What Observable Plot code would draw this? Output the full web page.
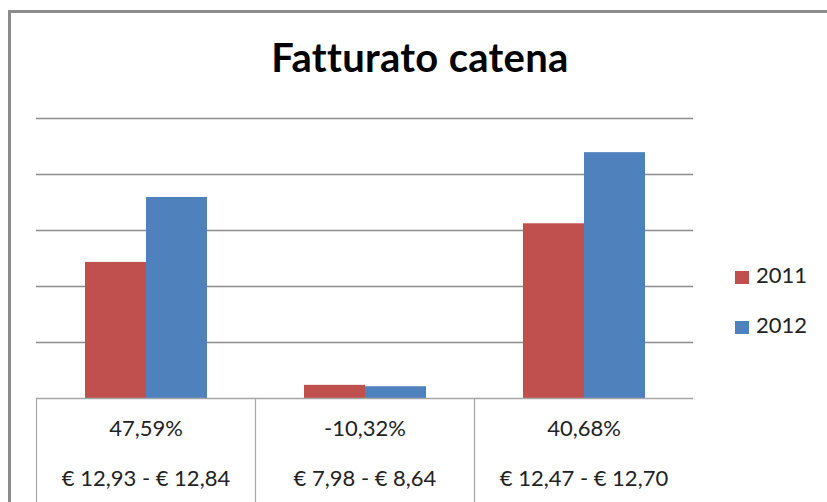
<!DOCTYPE html>
<html>
<head>
<meta charset="utf-8">
<script src="https://cdn.jsdelivr.net/npm/d3@7"></script>
<script src="https://cdn.jsdelivr.net/npm/@observablehq/plot@0.6"></script>
<style>
  html, body { margin: 0; padding: 0; background: white; }
  #wrap { position: relative; width: 827px; height: 502px; overflow: hidden; background: white; font-family: Lato, sans-serif; }
  #wrap svg { position: absolute; left: 0; top: 0; }
  #border { position: absolute; left: 8px; top: 10px; width: 900px; height: 600px; border-top: 3px solid #8c8c8c; border-left: 3px solid #8c8c8c; box-sizing: border-box; }
  #title { position: absolute; left: 0; width: 840px; top: 37px; text-align: center; font: bold 40px/40px Lato, sans-serif; color: #000; letter-spacing: 0.3px; }
  .leg { position: absolute; left: 735px; font: 22px/22px Lato, sans-serif; color: #222; }
  .leg span.sw { position: absolute; left: 0; width: 14px; height: 13px; }
  .leg span.lb { position: absolute; left: 21px; white-space: nowrap; }
</style>
</head>
<body>
<div id="wrap">
  <div id="title">Fatturato catena</div>
</div>
<script>
// Categories (growth row) and price row of the table under the chart
const growth = ["47,59%", "-10,32%", "40,68%"];
const prices = ["€ 12,93 - € 12,84", "€ 7,98 - € 8,64", "€ 12,47 - € 12,70"];
const years = ["2011", "2012"];
const colors = ["#C0504D", "#4F81BD"];
// Series values (read in gridline units)
const values2011 = [2.43, 0.235, 3.12];
const values2012 = [3.59, 0.21, 4.39];
const gridTicks = [1, 2, 3, 4, 5];

const table = [];
growth.forEach((c, i) => {
  table.push({cat: c, year: years[0], value: values2011[i]});
  table.push({cat: c, year: years[1], value: values2012[i]});
});
const priceRows = growth.map((c, i) => ({cat: c, price: prices[i]}));

const chart = Plot.plot({
  width: 827,
  height: 502,
  marginLeft: 36,
  marginRight: 134,
  marginTop: 118,
  marginBottom: 104,
  style: {background: "transparent", fontFamily: "Lato, sans-serif", overflow: "visible"},
  fx: {domain: growth, padding: 0, axis: null},
  x: {domain: years, paddingInner: 0, paddingOuter: 0.77, axis: null},
  y: {domain: [0, 5], axis: null},
  color: {domain: years, range: colors},
  marks: [
    Plot.ruleY(gridTicks, {stroke: "#8c8c8c", strokeWidth: 1.5}),
    Plot.barY(table, {fx: "cat", x: "year", y: "value", fill: "year"}),
    Plot.ruleY([0], {stroke: "#a6a6a6", strokeWidth: 1.5}),
    Plot.frame({anchor: "left", insetTop: 280, insetBottom: -104, stroke: "#a6a6a6", strokeWidth: 1.2}),
    Plot.text(priceRows, {fx: "cat", text: "cat", frameAnchor: "bottom", dy: 37, fontSize: 22, fill: "#222"}),
    Plot.text(priceRows, {fx: "cat", text: "price", frameAnchor: "bottom", dy: 87, fontSize: 22, fill: "#222"})
  ]
});

const wrap = document.getElementById("wrap");
wrap.insertBefore(chart, wrap.firstChild);

const border = document.createElement("div");
border.id = "border";
wrap.appendChild(border);

const legTops = [264, 314];
years.forEach((y, i) => {
  const d = document.createElement("div");
  d.className = "leg";
  d.style.top = legTops[i] + "px";
  const sw = document.createElement("span");
  sw.className = "sw";
  sw.style.background = colors[i];
  sw.style.top = "7px";
  const lb = document.createElement("span");
  lb.className = "lb";
  lb.textContent = y;
  d.appendChild(sw);
  d.appendChild(lb);
  wrap.appendChild(d);
});
</script>
</body>
</html>
